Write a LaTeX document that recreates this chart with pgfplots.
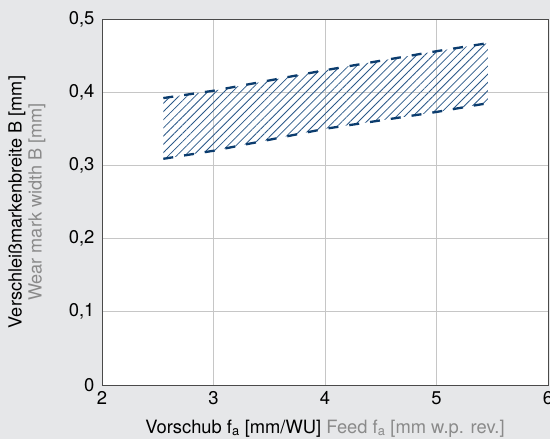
\documentclass[border=0pt]{standalone}
\usepackage{fontspec}
\setmainfont{TeX Gyre Heros}
\usepackage{pgfplots}
\pgfplotsset{compat=1.18}
\usetikzlibrary{patterns.meta}
\definecolor{bg}{HTML}{E6E7E9}
\definecolor{navy}{HTML}{0B3C6E}
\definecolor{hatch}{HTML}{2A5888}
\definecolor{gridc}{HTML}{C6C6C6}
\definecolor{framec}{HTML}{4A4A4A}
\definecolor{greytxt}{HTML}{8A8A8A}
\begin{document}
\begin{tikzpicture}
\fill[bg] (-102bp,-54bp) rectangle (448bp,385bp);
\useasboundingbox (-102bp,-54bp) rectangle (448bp,385bp);
\begin{axis}[
  at={(0,0)}, anchor=south west,
  scale only axis, width=446bp, height=366bp,
  xmin=2, xmax=6, ymin=0, ymax=0.5,
  xtick={2,3,4,5,6}, ytick={0,0.1,0.2,0.3,0.4,0.5},
  major tick length=0pt,
  grid=major, major grid style={gridc, line width=0.9bp},
  axis line style={framec, line width=0.8bp},
  axis background/.style={fill=white},
  /pgf/number format/assume math mode=true,
  ticklabel style={font=\fontsize{18.5}{21}\selectfont},
  yticklabel style={/pgf/number format/.cd, fixed, use comma, precision=1},
  xticklabel style={/pgf/number format/.cd, fixed, precision=0},
  yticklabel shift=4bp, xticklabel shift=3bp,
  xlabel={Vorschub f\textsubscript{a} [mm/WU] \textcolor{greytxt}{Feed f\textsubscript{a} [mm w.p. rev.]}},
  xlabel style={font=\fontsize{18.4}{20}\selectfont, at={(axis description cs:0.5,0)}, anchor=base, yshift=-48bp},
  ylabel={Verschleißmarkenbreite B [mm]\\\textcolor{greytxt}{Wear mark width B [mm]}},
  ylabel style={font=\fontsize{18.2}{20}\selectfont, align=center, at={(axis description cs:-0.1682,0.5)}, anchor=center},
]
\addplot[draw=none, pattern={Lines[angle=45, distance=5.8bp, line width=0.8bp]}, pattern color=hatch]
  coordinates {(2.55,0.392) (3,0.402) (4,0.430) (5,0.456) (5.46,0.467)
               (5.46,0.385) (5,0.373) (4,0.350) (3,0.320) (2.55,0.309)} -- cycle;
\addplot[navy, line width=2.3bp, dash pattern=on 10bp off 11bp]
  coordinates {(2.55,0.392) (3,0.402) (4,0.430) (5,0.456) (5.46,0.467)};
\addplot[navy, line width=2.3bp, dash pattern=on 10bp off 11bp]
  coordinates {(2.55,0.309) (3,0.320) (4,0.350) (5,0.373) (5.46,0.385)};
\end{axis}
\end{tikzpicture}
\end{document}
